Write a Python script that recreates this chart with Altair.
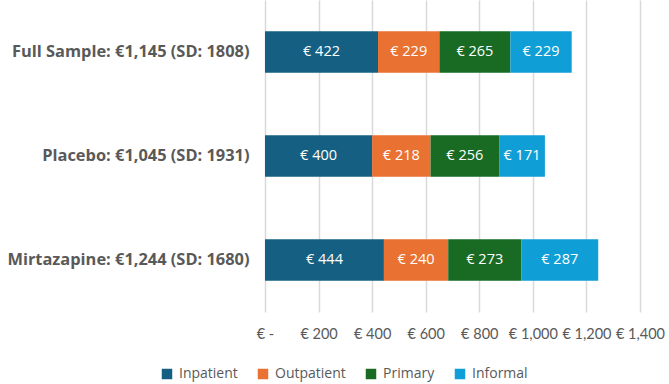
import altair as alt
import pandas as pd

groups = ["Full Sample: €1,145 (SD: 1808)", "Placebo: €1,045 (SD: 1931)", "Mirtazapine: €1,244 (SD: 1680)"]
components = ["Inpatient", "Outpatient", "Primary", "Informal"]
colors = ["#156082", "#E97132", "#196B24", "#0F9ED5"]
inpatient = [422, 400, 444]
outpatient = [229, 218, 240]
primary = [265, 256, 273]
informal = [229, 171, 287]
ticks = [0, 200, 400, 600, 800, 1000, 1200, 1400]

rows = []
for gi, g in enumerate(groups):
    for ci, (c, vals) in enumerate(zip(components, [inpatient, outpatient, primary, informal])):
        rows.append({"group": g, "component": c, "value": vals[gi], "order": ci})
df = pd.DataFrame(rows)

FONT = "Open Sans"
GREY = "#595959"

y_enc = alt.Y("group:N", sort=groups, title=None,
              scale=alt.Scale(paddingInner=0.6, paddingOuter=0.3),
              axis=alt.Axis(labelFont=FONT, labelFontWeight="bold", labelFontSize=16.4,
                            labelColor=GREY, labelPadding=16, ticks=False, domain=False,
                            labelLimit=400))

bars = alt.Chart(df).mark_bar().encode(
    x=alt.X("value:Q", stack="zero", title=None,
            scale=alt.Scale(domain=[0, 1400], nice=False),
            axis=alt.Axis(values=ticks, grid=True, gridColor="#d9d9d9", gridWidth=1.5,
                          domain=False, ticks=False, labelFont="Lato", labelFontSize=14.5,
                          labelColor=GREY, labelPadding=15, labelOverlap=False,
                          labelFlush=False, labelBound=False,
                          labelExpr="datum.value == 0 ? '€ -' : '€ ' + format(datum.value, ',')")),
    y=y_enc,
    color=alt.Color("component:N", sort=components,
                    scale=alt.Scale(domain=components, range=colors),
                    legend=alt.Legend(title=None, orient="none", direction="horizontal",
                                      legendX=-105, legendY=367,
                                      symbolType="square", symbolSize=110, symbolStrokeWidth=0,
                                      labelFont=FONT, labelFontSize=14, labelColor=GREY,
                                      columnPadding=18, labelOffset=5)),
    order=alt.Order("order:Q"),
)

labels = alt.Chart(df).transform_stack(
    stack="value", groupby=["group"], as_=["x0", "x1"],
    sort=[alt.SortField("order", order="ascending")]
).transform_calculate(
    mid="(datum.x0 + datum.x1) / 2",
    label="'€ ' + datum.value"
).mark_text(color="white", font=FONT, fontSize=14.5).encode(
    x=alt.X("mid:Q"),
    y=alt.Y("group:N", sort=groups),
    text="label:N",
)

chart = (bars + labels).properties(
    width=375, height=312,
    autosize=alt.AutoSizeParams(type="none"),
    padding={"left": 265, "top": 0, "right": 29, "bottom": 72},
    background="white",
).configure_view(stroke=None)

chart.save("out.html", embed_options={"renderer": "svg", "actions": False})
